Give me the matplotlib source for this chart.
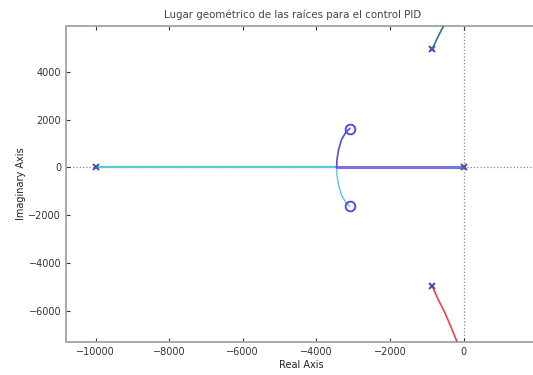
import matplotlib
matplotlib.use("Agg")
import matplotlib.pyplot as plt

# Poles and zeros
pole_re = [-10000, 0, -850, -850]
pole_im = [0, 0, 4960, -4960]
zero_re = [-3096, -3096]
zero_im = [1625, -1625]

# Branches
b_cyan_re = [-10000, -6000, -3452]
b_cyan_im = [0, 0, 0]
b_cyan_arc_re = [-3452, -3440, -3397, -3315, -3205, -3096]
b_cyan_arc_im = [0, -333, -750, -1167, -1458, -1625]
b_blue_re = [0, -1500, -3452]
b_blue_im = [0, 0, 0]
b_blue_arc_re = [-3452, -3440, -3397, -3315, -3205, -3096]
b_blue_arc_im = [0, 333, 750, 1167, 1458, 1625]
b_top_re = [-850, -700, -550, -420]
b_top_im = [4960, 5450, 5900, 6300]
b_red_re = [-850, -700, -520, -350, -190, -80]
b_red_im = [-4960, -5500, -6040, -6650, -7250, -7600]

xticks = [-10000, -8000, -6000, -4000, -2000, 0]
yticks = [-6000, -4000, -2000, 0, 2000, 4000]

fig = plt.figure(figsize=(5.33, 3.75), dpi=100)
ax = fig.add_axes([0.124, 0.088, 0.884, 0.842])

ax.axhline(0, color='#888888', ls=':', lw=0.9, zorder=1)
ax.axvline(0, color='#888888', ls=':', lw=0.9, zorder=1)

ax.plot(b_cyan_re, b_cyan_im, color='#5cc8d8', lw=1.6, zorder=2)
ax.plot(b_cyan_arc_re, b_cyan_arc_im, color='#5cc8d8', lw=1.0, zorder=2)
ax.plot(b_blue_re, b_blue_im, color='#7a70e0', lw=2.2, zorder=3)
ax.plot(b_blue_arc_re, b_blue_arc_im, color='#5050d0', lw=1.2, zorder=3)
ax.plot(b_top_re, b_top_im, color='#2a7a78', lw=1.2, zorder=3)
ax.plot(b_red_re, b_red_im, color='#f04050', lw=1.2, zorder=3)

ax.plot(pole_re, pole_im, ls='none', marker='x', color='#4a5aa8', ms=4, mew=1.5, zorder=4)
ax.plot(zero_re, zero_im, ls='none', marker='o', mfc='none', mec='#4848e0', ms=7, mew=1.3, zorder=4)

ax.set_xlim(-10800, 2000)
ax.set_ylim(-7300, 5900)
ax.set_xticks(xticks)
ax.set_yticks(yticks)
ax.tick_params(direction='in', length=3, labelsize=7, colors='#333333',
               right=True, top=True)
for s in ax.spines.values():
    s.set_color('#aaaaaa')
    s.set_linewidth(1.4)

ax.set_title('Lugar geométrico de las raíces para el control PID', fontsize=7.4,
             color='#444444', pad=6, x=0.48)
ax.set_xlabel('Real Axis', fontsize=7, color='#222222', labelpad=2)
ax.set_ylabel('Imaginary Axis', fontsize=7, color='#222222', labelpad=2)

fig.savefig('out.png', dpi=100)
